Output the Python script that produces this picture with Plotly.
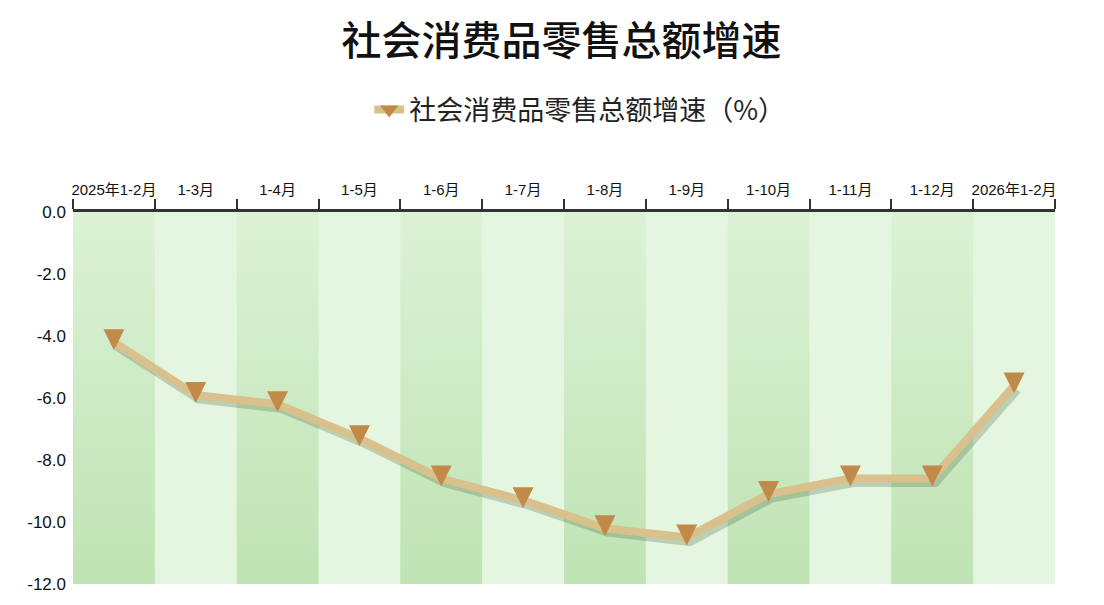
import plotly.graph_objects as go

# data
months = ["2025年1-2月", "1-3月", "1-4月", "1-5月", "1-6月", "1-7月",
          "1-8月", "1-9月", "1-10月", "1-11月", "1-12月", "2026年1-2月"]
growth = [-4.2, -5.9, -6.2, -7.3, -8.6, -9.3, -10.2, -10.5, -9.1, -8.6, -8.6, -5.6]
y_ticks = [0, -2, -4, -6, -8, -10, -12]

LINE = "#d9c18d"
MARK = "#c18a48"
px_per_unit = 372 / 12  # plot height / y span

fig = go.Figure()

# darker gradient bands behind every other category
for i in range(0, len(months), 2):
    fig.add_trace(go.Scatter(
        x=[i - 0.5, i + 0.5, i + 0.5, i - 0.5, i - 0.5],
        y=[0, 0, -12, -12, 0],
        xaxis="x", yaxis="y",
        mode="none", fill="toself",
        fillgradient=dict(type="vertical",
                          colorscale=[[0, "#bfe3b3"], [1, "#dcf2d6"]]),
        hoverinfo="skip", showlegend=False,
    ))

# soft drop shadow: same data drawn on slightly shifted axes
fig.add_trace(go.Scatter(
    x=list(range(len(months))), y=growth,
    xaxis="x2", yaxis="y2",
    mode="lines", line=dict(color="rgba(60,90,60,0.25)", width=9),
    hoverinfo="skip", showlegend=False,
))

# main line
fig.add_trace(go.Scatter(
    x=months, y=growth,
    xaxis="x3", yaxis="y",
    mode="lines", line=dict(color=LINE, width=8),
    showlegend=False,
))

# triangle markers, sitting slightly below the line point like the original
fig.add_trace(go.Scatter(
    x=months, y=growth,
    xaxis="x3", yaxis="y4",
    mode="markers",
    marker=dict(symbol="arrow-down", size=21, color=MARK, line=dict(width=0)),
    showlegend=False,
))

# legend entry only
fig.add_trace(go.Scatter(
    x=[None], y=[None],
    xaxis="x3", yaxis="y",
    mode="lines+markers",
    name="社会消费品零售总额增速（%）",
    line=dict(color=LINE, width=8),
    marker=dict(symbol="triangle-down", size=16, color=MARK),
))

shift = 8 / px_per_unit
sh = 4 / px_per_unit

# page body adds 8px, so the figure is drawn a little smaller than the window
fig.update_layout(
    width=1096, height=597,
    margin=dict(l=65, r=49, t=204, b=21),
    paper_bgcolor="white",
    plot_bgcolor="#e4f6df",
    font=dict(family="Arial, Liberation Sans, Noto Sans CJK SC", color="#111"),
    title=dict(text="社会消费品零售总额增速",
               font=dict(family="Noto Sans CJK SC", size=40, color="#111",
                         weight=500),
               x=0.505, xanchor="center", y=0.945, yanchor="middle"),
    showlegend=True,
    legend=dict(orientation="h", x=0.516, xanchor="center",
                y=1.274, yanchor="middle",
                font=dict(family="Noto Sans CJK SC", size=27, color="#222"),
                bgcolor="rgba(0,0,0,0)"),
    xaxis=dict(range=[-0.5, 11.5], visible=False),
    xaxis2=dict(overlaying="x", range=[-0.5 - 3 / 82, 11.5 - 3 / 82], visible=False),
    xaxis3=dict(overlaying="x", type="category", side="top", tickson="boundaries",
                ticks="outside", ticklen=10, tickwidth=2, tickcolor="#333",
                showline=True, linecolor="#333", linewidth=3,
                showgrid=False, zeroline=False, tickangle=0, ticklabelstandoff=8,
                tickfont=dict(size=15, color="#111"), range=[-0.5, 11.5]),
    yaxis=dict(range=[-12, 0], tickvals=y_ticks,
               ticktext=[f"{v:.1f}" for v in y_ticks],
               showgrid=False, zeroline=False, showline=False,
               ticks="", ticklabelstandoff=6,
               tickfont=dict(size=17, color="#111")),
    yaxis2=dict(overlaying="y", range=[-12 + sh, sh], visible=False),
    yaxis4=dict(overlaying="y", range=[-12 + shift, shift], visible=False),
)

fig.write_html("out.html")
